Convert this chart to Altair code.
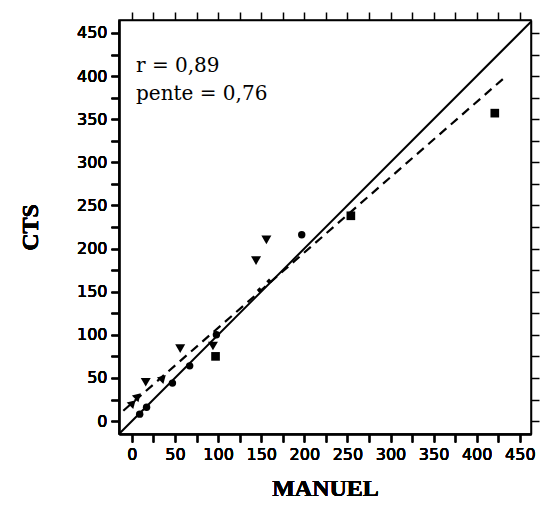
import altair as alt
import pandas as pd

# Data
circle_x = [9, 17, 47, 67, 98, 197]
circle_y = [8, 16, 44, 64, 100, 216]
tri_x = [16, 56, 94, 144, 156]
tri_y = [45, 84, 87, 186, 210]
square_x = [97, 254, 421]
square_y = [75, 238, 357]
star_x = [1, 7, 36]
star_y = [21, 29, 50]
small_x = [148, 159]
small_y = [152, 162]

ident_x = [-15, 463]
ident_y = [-15, 463]
fit_x = [-10, 432]
fit_y = [12, 398]

tick_vals = list(range(0, 451, 25))
dom_x = [-15, 463]
dom_y = [-15, 465]

label_font = "DejaVu Sans"
title_font = "Liberation Serif"
note_font = "DejaVu Serif"

xs = alt.Scale(domain=dom_x, nice=False, zero=False)
ys = alt.Scale(domain=dom_y, nice=False, zero=False)

x_axis = alt.Axis(values=tick_vals, labelExpr="datum.value % 50 == 0 ? datum.label : ''",
                  title="MANUEL", grid=False, orient="bottom", titlePadding=14)
y_axis = alt.Axis(values=tick_vals, labelExpr="datum.value % 50 == 0 ? datum.label : ''",
                  title="CTS", grid=False, orient="left", titlePadding=34)
x_top = alt.Axis(values=tick_vals, labels=False, title=None, grid=False, orient="top")
y_right = alt.Axis(values=tick_vals, labels=False, title=None, grid=False, orient="right")


def pts(xv, yv, shape, size, angle=0):
    df = pd.DataFrame({"x": xv, "y": yv})
    return alt.Chart(df).mark_point(shape=shape, filled=True, color="black", size=size,
                                    opacity=1, angle=angle).encode(
        x=alt.X("x:Q", scale=xs, axis=x_axis),
        y=alt.Y("y:Q", scale=ys, axis=y_axis),
    )


ident = alt.Chart(pd.DataFrame({"x": ident_x, "y": ident_y})).mark_line(
    color="black", strokeWidth=2).encode(
    x=alt.X("x:Q", scale=xs, axis=x_top),
    y=alt.Y("y:Q", scale=ys, axis=y_right),
)
fit = alt.Chart(pd.DataFrame({"x": fit_x, "y": fit_y})).mark_line(
    color="black", strokeWidth=2.2, strokeDash=[9, 6]).encode(
    x=alt.X("x:Q", scale=xs, axis=x_axis),
    y=alt.Y("y:Q", scale=ys, axis=y_axis),
)

texts = alt.Chart(pd.DataFrame({"t": ["r = 0,89"]})).mark_text(
    align="left", baseline="alphabetic", font=note_font, fontSize=20, color="black").encode(
    text="t:N", x=alt.value(17), y=alt.value(52))
texts2 = alt.Chart(pd.DataFrame({"t": ["pente = 0,76"]})).mark_text(
    align="left", baseline="alphabetic", font=note_font, fontSize=20, color="black").encode(
    text="t:N", x=alt.value(17), y=alt.value(80))

chart = alt.layer(
    ident, fit,
    pts(circle_x, circle_y, "circle", 55),
    pts(tri_x, tri_y, "triangle-down", 100),
    pts(square_x, square_y, "square", 75),
    pts(star_x, star_y, "triangle-up", 85, 45),
    pts(small_x, small_y, "diamond", 30),
    texts, texts2,
).resolve_axis(x="independent", y="independent").properties(
    width=412, height=414,
    autosize=alt.AutoSizeParams(type="none"),
    padding={"left": 119, "top": 20, "right": 9, "bottom": 72},
).configure(background="white").configure_view(stroke="black", strokeWidth=1.5).configure_axis(
    labelFont=label_font, labelFontSize=16, labelColor="black",
    tickColor="black", tickSize=8, tickWidth=1.5,
    domainColor="black", domainWidth=1.5, labelPadding=4,
    titleFont=title_font, titleFontSize=24, titleFontWeight="bold", titleColor="black",
)

chart.save("out.html", embed_options={"renderer": "svg", "actions": False})
